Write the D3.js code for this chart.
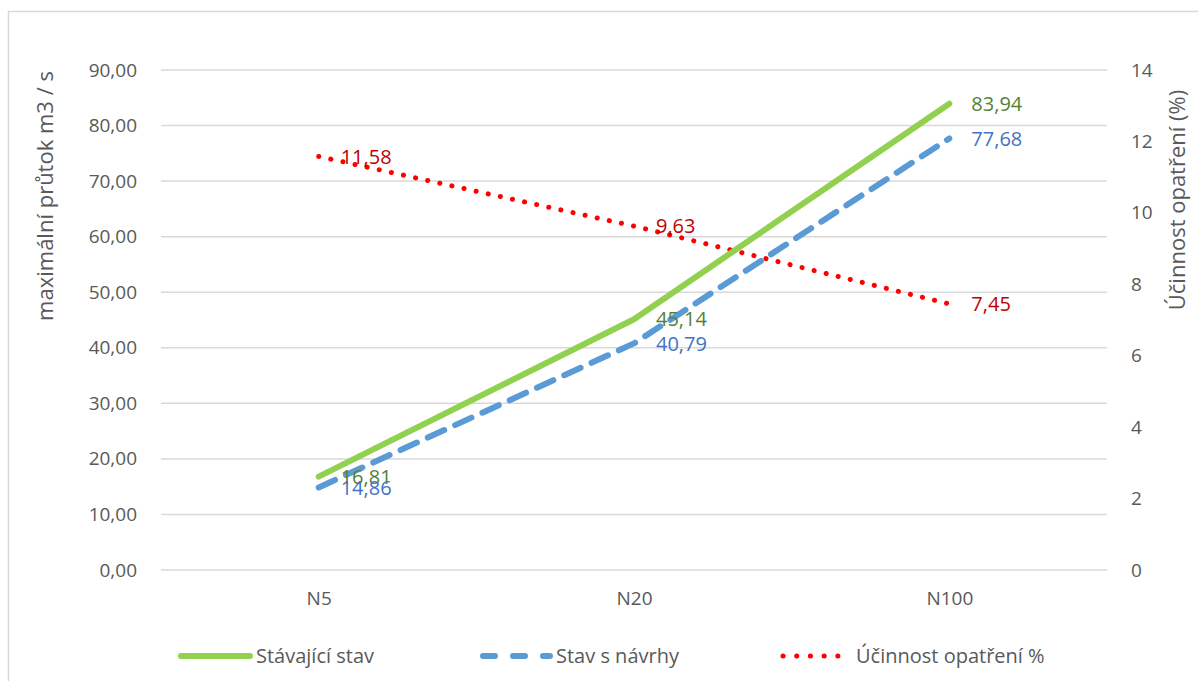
<!DOCTYPE html>
<html><head><meta charset="utf-8">
<script src="https://cdn.jsdelivr.net/npm/d3@7"></script>
<style>body{margin:0;background:#fff;} svg{display:block;} text{font-family:"Open Sans",Lato,sans-serif;}</style>
</head><body>
<svg id="c" width="1198" height="681"></svg>
<script>
const categories = ["N5", "N20", "N100"];
const stavajici = [16.81, 45.14, 83.94];
const navrhy = [14.86, 40.79, 77.68];
const ucinnost = [11.58, 9.63, 7.45];
const leftTicks = [0,10,20,30,40,50,60,70,80,90];
const rightTicks = [0,2,4,6,8,10,12,14];
const seriesNames = ["Stávající stav", "Stav s návrhy", "Účinnost opatření %"];

const svg = d3.select("#c");
const L = 161, R = 1107, T = 70, B = 570;
const grey = "#595959";
const FF = "'Open Sans',Lato,sans-serif";

svg.append("rect").attr("x",8.5).attr("y",11.5).attr("width",1300).attr("height",800)
  .attr("fill","none").attr("stroke","#d9d9d9").attr("stroke-width",1.5);

const x = d3.scalePoint().domain(categories).range([L,R]).padding(0.5);
const yL = d3.scaleLinear().domain([0,90]).range([B,T]);
const yR = d3.scaleLinear().domain([0,14]).range([B,T]);

svg.append("g").selectAll("line").data(leftTicks).join("line")
  .attr("x1",L).attr("x2",R).attr("y1",d=>yL(d)).attr("y2",d=>yL(d))
  .attr("stroke","#d9d9d9").attr("stroke-width",1.5);

const fmt2 = d => d.toFixed(2).replace(".", ",");
const gl = svg.append("g").attr("transform",`translate(${L},0)`)
  .call(d3.axisLeft(yL).tickValues(leftTicks).tickFormat(fmt2).tickSize(0).tickPadding(24));
gl.select(".domain").remove();
gl.selectAll("text").attr("font-size",19).attr("fill",grey).attr("font-family",FF);

const gr = svg.append("g").attr("transform",`translate(${R},0)`)
  .call(d3.axisRight(yR).tickValues(rightTicks).tickFormat(d=>d).tickSize(0).tickPadding(24));
gr.select(".domain").remove();
gr.selectAll("text").attr("font-size",19).attr("fill",grey).attr("font-family",FF);

const gb = svg.append("g").attr("transform",`translate(0,${B})`)
  .call(d3.axisBottom(x).tickSize(0).tickPadding(22));
gb.select(".domain").remove();
gb.selectAll("text").attr("font-size",19).attr("fill",grey).attr("font-family",FF);

svg.append("text").attr("transform","translate(53,196) rotate(-90)").attr("text-anchor","middle")
  .attr("font-size",22).attr("fill",grey).text("maximální průtok m3 / s");
svg.append("text").attr("transform","translate(1185,200) rotate(-90)").attr("text-anchor","middle")
  .attr("font-size",22).attr("fill",grey).text("Účinnost opatření (%)");

const curve = d3.curveLinear;
const lineL = d3.line().x((d,i)=>x(categories[i])).y(d=>yL(d)).curve(curve);
const lineR = d3.line().x((d,i)=>x(categories[i])).y(d=>yR(d)).curve(curve);

svg.append("path").attr("d",lineR(ucinnost)).attr("fill","none").attr("stroke","#ff0000")
  .attr("stroke-width",5).attr("stroke-linecap","round").attr("stroke-dasharray","0.1 12.3");
svg.append("path").attr("d",lineL(stavajici)).attr("fill","none").attr("stroke","#92d050")
  .attr("stroke-width",6).attr("stroke-linecap","round").attr("stroke-linejoin","round");
svg.append("path").attr("d",lineL(navrhy)).attr("fill","none").attr("stroke","#5b9bd5")
  .attr("stroke-width",6).attr("stroke-linecap","round").attr("stroke-linejoin","round").attr("stroke-dasharray","18 12");

function labels(data, scale, color){
  svg.append("g").selectAll("text").data(data).join("text")
    .attr("x",(d,i)=>x(categories[i])+22).attr("y",d=>scale(d)).attr("dy","0.36em")
    .attr("font-size",20).attr("fill",color).text(d=>fmt2(d));
}
labels(stavajici, yL, "#548235");
labels(navrhy, yL, "#4472c4");
labels(ucinnost, yR, "#c00000");

const ly = 656;
const lg = svg.append("g");
lg.append("line").attr("x1",181).attr("x2",250).attr("y1",ly).attr("y2",ly)
  .attr("stroke","#92d050").attr("stroke-width",6).attr("stroke-linecap","round");
lg.append("text").attr("x",256).attr("y",ly).attr("dy","0.36em").attr("font-size",20).attr("fill",grey).text(seriesNames[0]);
lg.append("line").attr("x1",483).attr("x2",550).attr("y1",ly).attr("y2",ly)
  .attr("stroke","#5b9bd5").attr("stroke-width",6).attr("stroke-linecap","round").attr("stroke-dasharray","12 18");
lg.append("text").attr("x",556).attr("y",ly).attr("dy","0.36em").attr("font-size",20).attr("fill",grey).text(seriesNames[1]);
lg.append("line").attr("x1",783).attr("x2",851).attr("y1",ly).attr("y2",ly)
  .attr("stroke","#ff0000").attr("stroke-width",5).attr("stroke-linecap","round").attr("stroke-dasharray","0.1 13.6");
lg.append("text").attr("x",856).attr("y",ly).attr("dy","0.36em").attr("font-size",20).attr("fill",grey).text(seriesNames[2]);
</script>
</body></html>
